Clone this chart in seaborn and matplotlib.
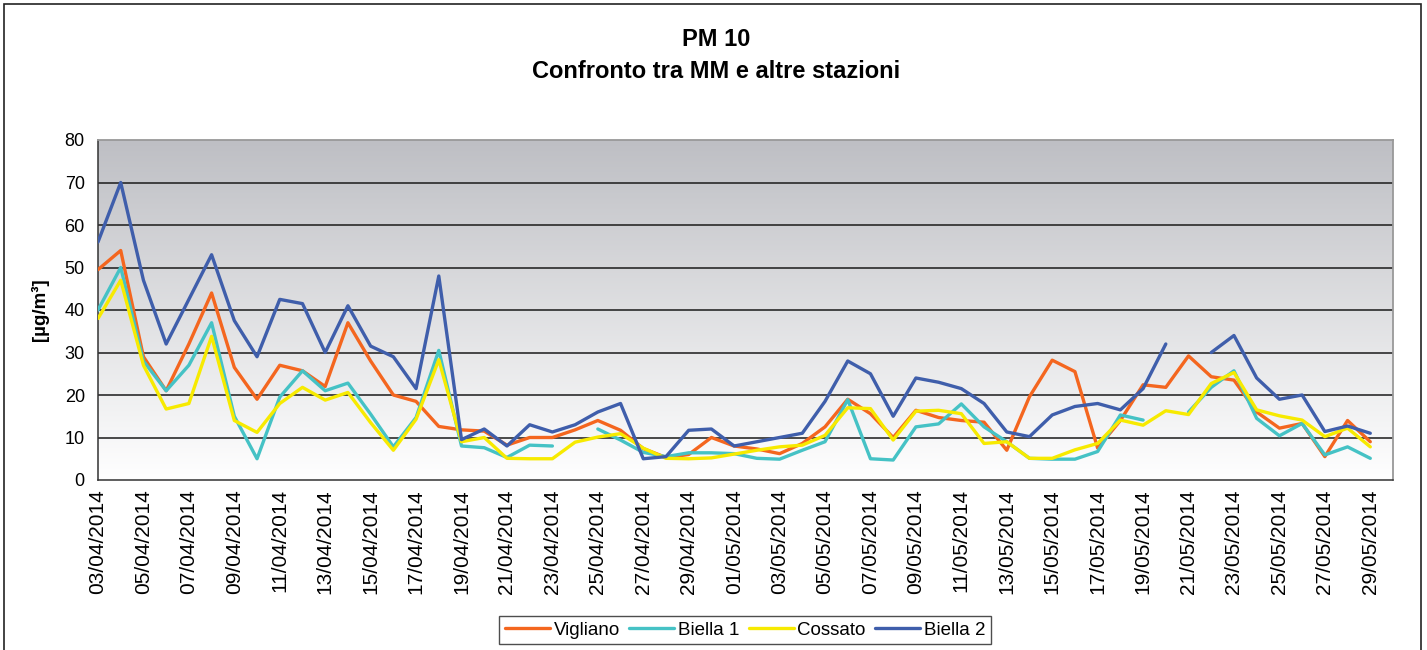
import numpy as np
import pandas as pd
import matplotlib
matplotlib.use("Agg")
import matplotlib.pyplot as plt
import seaborn as sns

# daily values, 03/04/2014 .. 29/05/2014
dates = pd.date_range("2014-04-03", "2014-05-29", freq="D")
nan = np.nan

vigliano = [49.5, 54, 29, 21, 32, 44, 26.5, 19, 27, 25.7, 22, 37, 28, 20, 18.5, 12.6,
            11.8, 11.5, 8.2, 10, 10, 11.8, 14, 11.7, 7.4, 5.3, 6, 10, 8, 7.3, 6.2, 8.6,
            12.5, 19, 15.6, 10, 16.4, 14.7, 14, 13.6, 7, 19.6, 28.2, 25.5, 7.5, 14,
            22.4, 21.8, 29.2, 24.3, 23.5, 16, 12.2, 13.3, 5.5, 14, 9]
biella1 = [40, 50, 28, 21, 27, 37, 15, 5, 19.5, 25.7, 21, 22.8, 15.5, 7.8, 14.7, 30.5,
           8, 7.6, 5.3, 8.2, 8, nan, 12, 9.4, 6.5, 5.5, 6.4, 6.4, 6.2, 5.1, 4.9, 7,
           9, 18.9, 5, 4.7, 12.5, 13.2, 17.9, 12.5, 9, 5.1, 4.9, 4.9, 6.7, 15.3,
           14.1, nan, 16, 21.8, 25.7, 14.5, 10.4, 13.3, 5.9, 7.8, 5.1]
cossato = [38, 47, 27, 16.7, 18, 33.8, 14, 11.2, 18, 21.8, 18.8, 20.6, 13.5, 7, 14.3, 28.3,
           9, 10, 5.1, 5, 5, 8.9, 10.1, 10.9, 7.5, 5.1, 5, 5.2, 6.1, 7, 7.8, 8.2,
           10.5, 17, 16.8, 9.4, 16.2, 16.4, 15.6, 8.6, 9, 5.1, 5.1, 7.1, 8.6, 14.1,
           12.9, 16.3, 15.4, 22.7, 25.3, 16.5, 15.1, 14.1, 10.2, 12.2, 7.8]
biella2 = [56, 70, 47, 32, 42.5, 53, 37.5, 29, 42.5, 41.5, 30, 41, 31.5, 29, 21.5, 48,
           9.5, 12, 8, 13, 11.3, 13, 16, 18, 5, 5.5, 11.7, 12, 8, 9, 10, 11,
           18.5, 28, 25, 15, 24, 23, 21.5, 18, 11.3, 10.2, 15.3, 17.3, 18, 16.5,
           21.5, 32, nan, 30, 34, 24, 19, 20, 11.4, 12.7, 11]

stations = ["Vigliano", "Biella 1", "Cossato", "Biella 2"]
colors = ["#f4661f", "#45c2c5", "#f7ea00", "#3f5eab"]

rows = []
for name, vals in zip(stations, [vigliano, biella1, cossato, biella2]):
    seg = 0
    for i, v in enumerate(vals):
        if np.isnan(v):
            seg += 1
            continue
        rows.append({"day": i, "value": v, "station": name, "seg": f"{name}_{seg}"})
df = pd.DataFrame(rows)

sns.set_style("white")
plt.rcParams["font.family"] = ["Liberation Sans", "DejaVu Sans"]
plt.rcParams["text.color"] = "black"
plt.rcParams["xtick.color"] = "black"
plt.rcParams["ytick.color"] = "black"

fig = plt.figure(figsize=(14.27, 6.5), dpi=100)
ax = fig.add_axes([98 / 1427, 1 - 480 / 650, (1393 - 98) / 1427, 340 / 650])

# gradient background
grad = np.linspace(0, 1, 256).reshape(-1, 1)
top = np.array([190, 191, 196]) / 255
bot = np.array([255, 255, 255]) / 255
img = top * (1 - grad[..., None]) + bot * grad[..., None]
img = np.clip(img, 0, 1)
ax.imshow(img, extent=[0, 57, 0, 80], aspect="auto", origin="upper", zorder=0)

for y in range(10, 80, 10):
    ax.axhline(y, color="#1a1a1a", lw=1.1, zorder=1)

sns.lineplot(data=df, x="day", y="value", hue="station", units="seg", estimator=None,
             hue_order=stations, palette=colors, lw=2.4, sort=True, ax=ax, zorder=3,
             legend=False)

ax.set_xlim(0, 57)
ax.set_ylim(0, 80)
ax.set_xticks(np.arange(0, 57, 2))
ax.set_xticklabels([d.strftime("%d/%m/%Y") for d in dates[::2]], rotation=90, fontsize=15)
ax.set_xticks(np.arange(0, 58), minor=True)
ax.set_yticks(np.arange(0, 81, 10))
ax.set_yticklabels([str(v) for v in range(0, 81, 10)], fontsize=13)
ax.tick_params(axis="x", which="both", direction="inout", length=9, width=1, color="#333333", pad=2)
ax.tick_params(axis="y", direction="inout", length=9, width=1, color="#333333", pad=5)
ax.set_xlabel("")
ax.set_ylabel("")
for s in ["left", "bottom"]:
    ax.spines[s].set_color("#333333")
    ax.spines[s].set_linewidth(1.1)
for s in ["top", "right"]:
    ax.spines[s].set_color("#999999")
    ax.spines[s].set_linewidth(1.3)

fig.text(716 / 1427, 1 - 40 / 650, "PM 10", ha="center", va="center", fontsize=17, fontweight="bold")
fig.text(716 / 1427, 1 - 72 / 650, "Confronto tra MM e altre stazioni", ha="center", va="center",
         fontsize=17, fontweight="bold")
fig.text(40 / 1427, 1 - 310 / 650, "[µg/m³]", ha="center", va="center", rotation=90,
         fontsize=13.5, fontweight="bold")

handles = [plt.Line2D([], [], color=c, lw=2.4) for c in colors]
leg = fig.legend(handles, stations, loc="center", bbox_to_anchor=(745 / 1427, 1 - 630 / 650),
                 ncol=4, frameon=True, fontsize=13.5, handlelength=2.4, handletextpad=0.2,
                 columnspacing=0.5, borderpad=0.3, fancybox=False)
leg.get_frame().set_edgecolor("#222222")
leg.get_frame().set_linewidth(1)

fig.patches.append(plt.Rectangle((4 / 1427, -0.01), 1417 / 1427, 1 - 4 / 650 + 0.01,
                                 transform=fig.transFigure, fill=False, ec="#222222", lw=1.2))

fig.savefig("out.png", dpi=100)
